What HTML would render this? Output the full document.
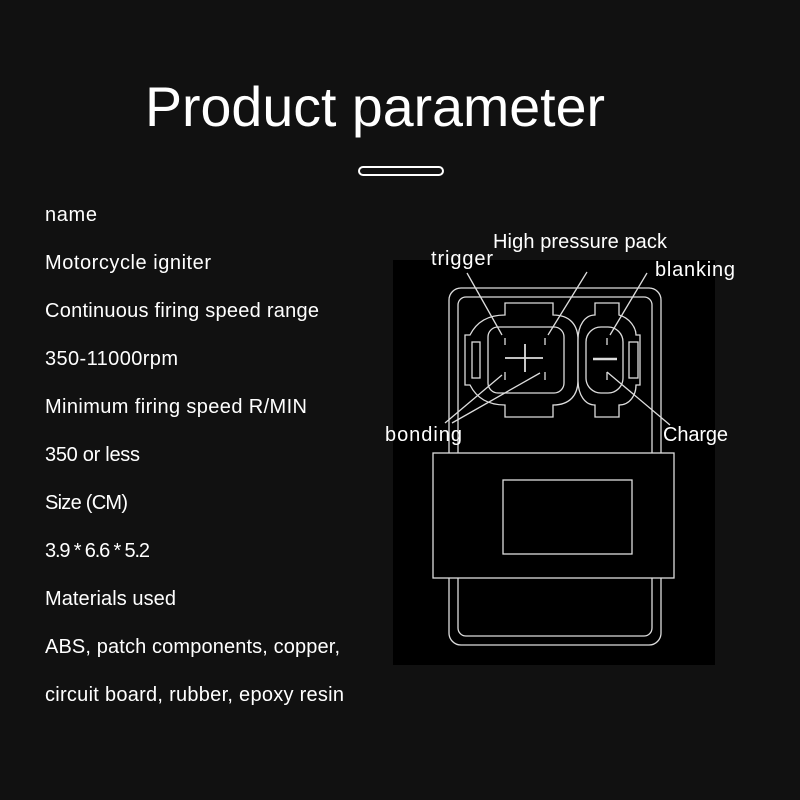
<!DOCTYPE html>
<html><head><meta charset="utf-8"><style>
html,body{margin:0;padding:0;background:#111;}
svg{display:block}
</style></head><body>
<svg width="800" height="800" viewBox="0 0 800 800" xmlns="http://www.w3.org/2000/svg">
<rect width="800" height="800" fill="#111"/>
<text x="145" y="126" font-family="Liberation Sans, sans-serif" font-size="56" fill="#fff" textLength="460" lengthAdjust="spacingAndGlyphs">Product parameter</text>
<rect x="359" y="167" width="84" height="8" rx="4" fill="none" stroke="#fff" stroke-width="2"/>
<g font-family="Liberation Sans, sans-serif" font-size="20" fill="#fff" lengthAdjust="spacingAndGlyphs">
<text x="45" y="221" textLength="52">name</text>
<text x="45" y="269" textLength="166">Motorcycle igniter</text>
<text x="45" y="317" textLength="274">Continuous firing speed range</text>
<text x="45" y="365" textLength="133">350-11000rpm</text>
<text x="45" y="413" textLength="262">Minimum firing speed R/MIN</text>
<text x="45" y="461" textLength="95">350 or less</text>
<text x="45" y="509" textLength="83">Size (CM)</text>
<text x="45" y="557" textLength="105">3.9 * 6.6 * 5.2</text>
<text x="45" y="605" textLength="131">Materials used</text>
<text x="45" y="653" textLength="295">ABS, patch components, copper,</text>
<text x="45" y="701" textLength="299">circuit board, rubber, epoxy resin</text>
</g>
<rect x="393" y="260" width="322" height="405" fill="#000"/>
<g fill="none" stroke="#ddd" stroke-width="1.3">
<rect x="449" y="288" width="212" height="357" rx="12"/>
<rect x="458" y="297" width="194" height="339" rx="8"/>
<rect x="433" y="453" width="241" height="125" fill="#000"/>
<rect x="503" y="480" width="129" height="74"/>
<path d="M505,303 H553 V315 C570,315 578,325 578,340 V380 C578,395 570,405 553,405 V417 H505 V405 C485,405 475,395 470,385 H465 V335 H470 C475,325 485,315 505,315 Z" fill="#000"/>
<path d="M595,303 H619 V315 C630,318 636,328 636,335 H640 V385 H636 C636,395 630,405 619,405 V417 H595 V405 C585,405 578,395 578,380 V340 C578,325 585,315 595,315 Z" fill="#000"/>
<rect x="488" y="327" width="76" height="66" rx="10"/>
<rect x="586" y="327" width="37" height="66" rx="15"/>
<rect x="472" y="342" width="8" height="36"/>
<rect x="629" y="342" width="9" height="36"/>
<path d="M505,338V345 M545,338V345 M505,372V380 M545,372V380 M607,338V345 M607,372V380"/>
<path d="M505,358H543 M525,344V372" stroke-width="1.8"/>
<path d="M593,359H617" stroke-width="2.5"/>
<path d="M467,273L502,335 M587,272L548,335 M647,273L610,335 M445,423L502,375 M452,423L540,373 M670,425L607,372"/>
</g>
<g font-family="Liberation Sans, sans-serif" font-size="20" fill="#fff" lengthAdjust="spacingAndGlyphs">
<text x="493" y="248" textLength="174">High pressure pack</text>
<text x="431" y="265" textLength="62">trigger</text>
<text x="655" y="276" textLength="80">blanking</text>
<text x="385" y="441" textLength="77">bonding</text>
<text x="663" y="441" textLength="65">Charge</text>
</g>
</svg>
</body></html>
